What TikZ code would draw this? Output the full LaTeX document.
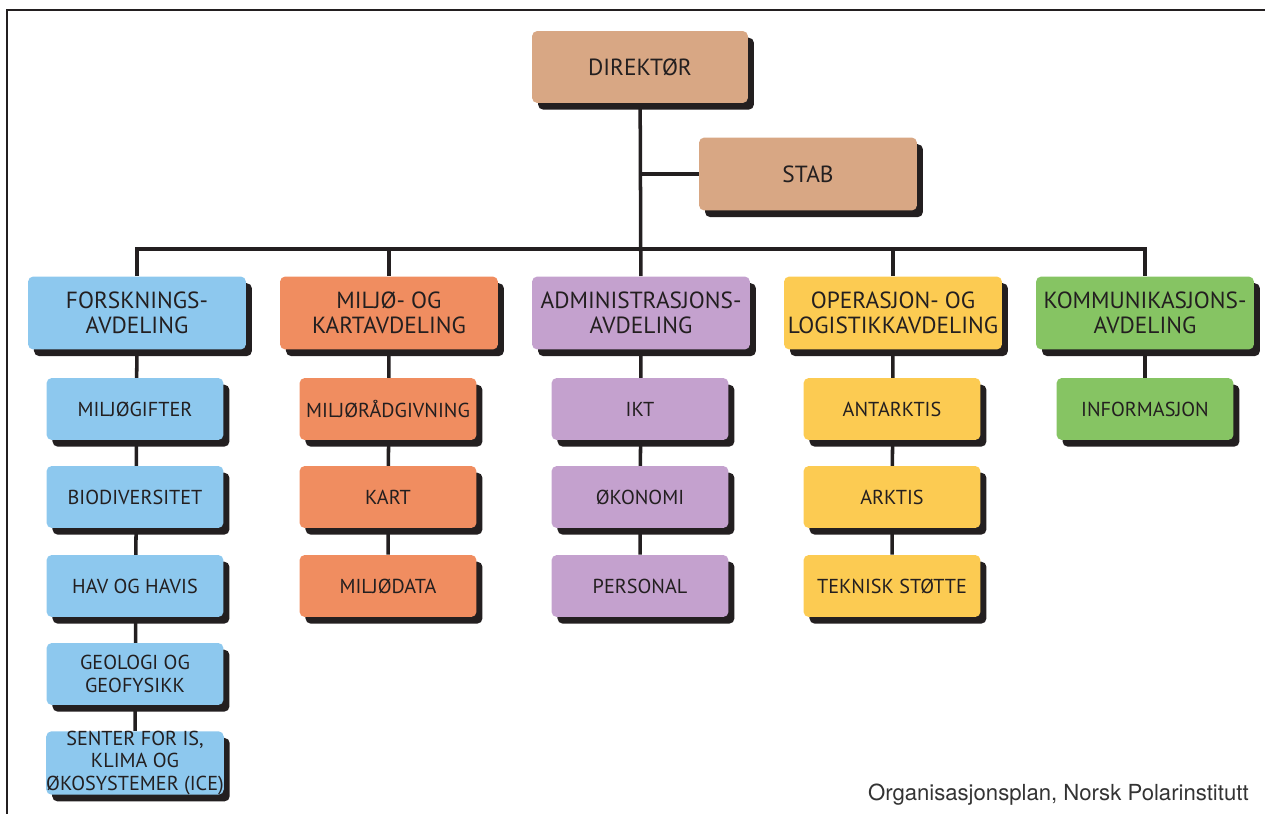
\documentclass[tikz,border=0pt]{standalone}
\usepackage{fontspec}
\setmainfont{PT Sans}
\newfontfamily\kildefont{TeX Gyre Heros}
\usetikzlibrary{shadows,backgrounds}
\definecolor{tekst}{HTML}{231F20}
\definecolor{ledelse}{HTML}{D8A784}
\definecolor{forsk}{HTML}{8DC8EE}
\definecolor{miljo}{HTML}{F08D60}
\definecolor{admin}{HTML}{C4A1CE}
\definecolor{logist}{HTML}{FCCB52}
\definecolor{kommu}{HTML}{86C463}
\tikzset{
  boks/.style={rounded corners=3pt,align=center,inner sep=0pt,text=tekst,
    general shadow={fill=tekst,shadow xshift=3.4pt,shadow yshift=-3.8pt}},
  avd/.style={boks,minimum width=4.36cm,minimum height=1.46cm,font=\fontsize{13.3}{14.5}\selectfont},
  enhet/.style={boks,minimum width=3.54cm,minimum height=1.24cm,font=\fontsize{11.5}{12.7}\selectfont},
  linje/.style={line width=2pt,draw=tekst}
}
\begin{document}
\begin{tikzpicture}[x=0.02cm,y=-0.02cm]
\useasboundingbox (0,0) rectangle (1265,814);
\draw[line width=1pt,tekst] (1265,10) -- (7,10) -- (7,814);

\node[avd,fill=ledelse,minimum width=4.32cm,minimum height=1.44cm] (dir) at (640,67) {DIREKTØR};
\node[avd,fill=ledelse] (stab) at (808,174) {STAB};
\coordinate (bus) at (641,249);

\node[avd,fill=forsk] (fou) at (137,313) {FORSKNINGS-\\AVDELING};
\node[avd,fill=miljo] (mil) at (389,313) {MILJØ- OG\\KARTAVDELING};
\node[avd,fill=admin] (adm) at (641,313) {ADMINISTRASJONS-\\AVDELING};
\node[avd,fill=logist] (ops) at (893,313) {OPERASJON- OG\\LOGISTIKKAVDELING};
\node[avd,fill=kommu] (kom) at (1145,313) {KOMMUNIKASJONS-\\AVDELING};

\node[enhet,fill=forsk] (fou1) at (135,409) {MILJØGIFTER};
\node[enhet,fill=forsk] (fou2) at (135,497) {BIODIVERSITET};
\node[enhet,fill=forsk] (fou3) at (135,586) {HAV OG HAVIS};
\node[enhet,fill=forsk] (fou4) at (135,674) {GEOLOGI OG\\GEOFYSIKK};
\node[enhet,fill=forsk] (fou5) at (135,763) {SENTER FOR IS,\\KLIMA OG\\ØKOSYSTEMER (ICE)};

\node[enhet,fill=miljo] (mil1) at (388,409) {MILJØRÅDGIVNING};
\node[enhet,fill=miljo] (mil2) at (388,497) {KART};
\node[enhet,fill=miljo] (mil3) at (388,586) {MILJØDATA};

\node[enhet,fill=admin] (adm1) at (640,409) {IKT};
\node[enhet,fill=admin] (adm2) at (640,497) {ØKONOMI};
\node[enhet,fill=admin] (adm3) at (640,586) {PERSONAL};

\node[enhet,fill=logist] (ops1) at (892,409) {ANTARKTIS};
\node[enhet,fill=logist] (ops2) at (892,497) {ARKTIS};
\node[enhet,fill=logist] (ops3) at (892,586) {TEKNISK STØTTE};

\node[enhet,fill=kommu] (kom1) at (1145,409) {INFORMASJON};

\node[anchor=east,inner sep=0pt,text=black!80,font=\kildefont\fontsize{12.6}{13}\selectfont] (kilde) at (1249,795) {Organisasjonsplan, Norsk Polarinstitutt};

\begin{scope}[on background layer]
\draw[linje] (dir) -- (adm);
\draw[linje] (stab) -- (stab -| dir);
\draw[linje] (fou) |- (bus) -| (kom);
\draw[linje] (mil) -- (mil |- bus);
\draw[linje] (ops) -- (ops |- bus);
\draw[linje] (fou) -- (fou5);
\draw[linje] (mil) -- (mil3);
\draw[linje] (adm) -- (adm3);
\draw[linje] (ops) -- (ops3);
\draw[linje] (kom) -- (kom1);
\end{scope}
\end{tikzpicture}
\end{document}
